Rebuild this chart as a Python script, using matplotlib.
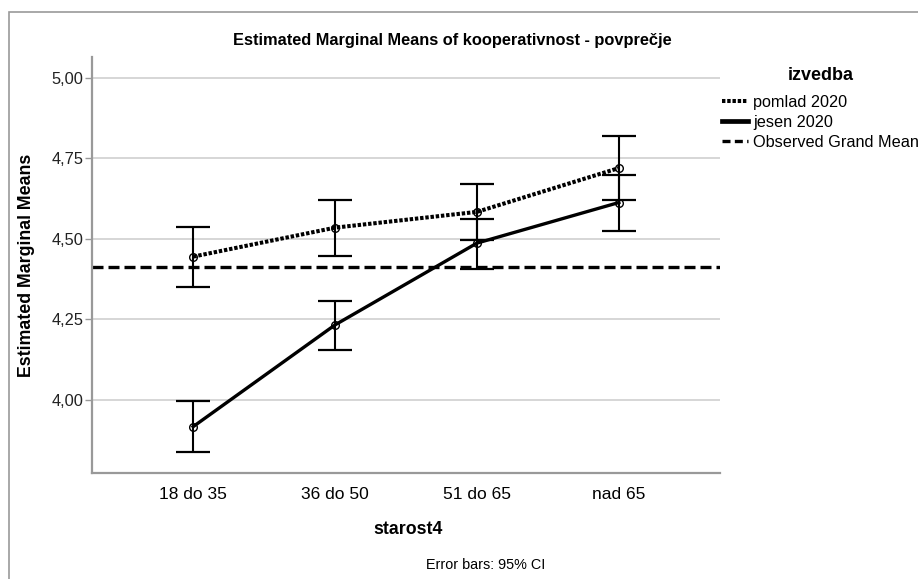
import matplotlib
matplotlib.use("Agg")
import matplotlib.pyplot as plt
from matplotlib.lines import Line2D
from matplotlib.patches import Rectangle
import numpy as np

plt.rcParams['font.family'] = ['Liberation Sans', 'DejaVu Sans']

# data
groups = ['18 do 35', '36 do 50', '51 do 65', 'nad 65']
pomlad_mean = [4.445, 4.535, 4.584, 4.720]
pomlad_lo = [4.352, 4.448, 4.497, 4.620]
pomlad_hi = [4.536, 4.622, 4.671, 4.821]
jesen_mean = [3.917, 4.233, 4.487, 4.613]
jesen_lo = [3.839, 4.154, 4.406, 4.525]
jesen_hi = [3.997, 4.308, 4.561, 4.700]
grand_mean = 4.413
yticks = [4.00, 4.25, 4.50, 4.75, 5.00]

W, H = 918, 579
fig = plt.figure(figsize=(W / 100, H / 100), dpi=100)
ax = fig.add_axes([92 / W, 1 - 473 / H, (720 - 92) / W, (473 - 57) / H])

x = np.arange(len(groups))

DOT = (0, (0.85, 0.45))
DASH = (0, (3.3, 1.5))

ax.axhline(grand_mean, color='black', lw=2.4, ls=DASH, dash_capstyle='butt', zorder=2)

def draw(mean, lo, hi, ls, lw):
    mean = np.array(mean)
    err = [mean - np.array(lo), np.array(hi) - mean]
    ax.errorbar(x, mean, yerr=err, fmt='none', ecolor='black', elinewidth=1.5,
                capsize=12.5, capthick=1.6, zorder=3)
    ax.plot(x, mean, color='black', ls=ls, lw=lw, dash_capstyle='butt', zorder=4)
    ax.plot(x, mean, ls='none', marker='o', ms=5.5, mfc='none', mec='black',
            mew=1.0, zorder=5)

draw(pomlad_mean, pomlad_lo, pomlad_hi, DOT, 2.9)
draw(jesen_mean, jesen_lo, jesen_hi, '-', 2.4)

ax.set_xlim(-0.713, 3.713)
ax.set_ylim(3.773, 5.065)
ax.set_xticks(x)
ax.set_xticklabels(groups, fontsize=12.5)
ax.set_yticks(yticks)
ax.set_yticklabels([f'{v:.2f}'.replace('.', ',') for v in yticks], fontsize=11.8,
                   color='#222222')
ax.tick_params(axis='x', length=0, pad=10)
ax.tick_params(axis='y', length=5, width=1, color='#999999', pad=1)
ax.yaxis.grid(True, color='#cfcfcf', lw=1.2)
ax.set_axisbelow(True)
for s in ['top', 'right']:
    ax.spines[s].set_visible(False)
for s in ['left', 'bottom']:
    ax.spines[s].set_color('#999999')
    ax.spines[s].set_linewidth(1.6)

ax.set_ylabel('Estimated Marginal Means', fontsize=12.8, fontweight='bold')
ax.yaxis.set_label_coords(35 / W, 1 - 265 / H, transform=fig.transFigure)

fig.text(452 / W, 1 - 40 / H, 'Estimated Marginal Means of kooperativnost - povprečje',
         ha='center', va='center', fontsize=11.8, fontweight='bold')
fig.text(408 / W, 1 - 530 / H, 'starost4', ha='center', va='center',
         fontsize=12.8, fontweight='bold')
fig.text(486 / W, 1 - 565 / H, 'Error bars: 95% CI', ha='center', va='center',
         fontsize=10.4)

handles = [
    Line2D([], [], color='black', ls=DOT, lw=2.9, dash_capstyle='butt'),
    Line2D([], [], color='black', ls='-', lw=3.4),
    Line2D([], [], color='black', ls=(0, (2.4, 1.3)), lw=2.4, dash_capstyle='butt'),
]
leg = fig.legend(handles, ['pomlad 2020', 'jesen 2020', 'Observed Grand Mean'],
                 title='izvedba', loc='upper left',
                 bbox_to_anchor=(722 / W, 1 - 67 / H), frameon=False,
                 fontsize=11.7, handlelength=1.6, handletextpad=0.3,
                 labelspacing=0.3, borderaxespad=0, borderpad=0)
leg.get_title().set_fontweight('bold')
leg.get_title().set_fontsize(13)
leg._legend_box.sep = 8

fig.add_artist(Rectangle((9 / W, -0.05), 1.2, 1 - 12 / H + 0.05, transform=fig.transFigure,
                         fill=False, ec='#9a9a9a', lw=1.2))

fig.savefig('out.png', dpi=100)
